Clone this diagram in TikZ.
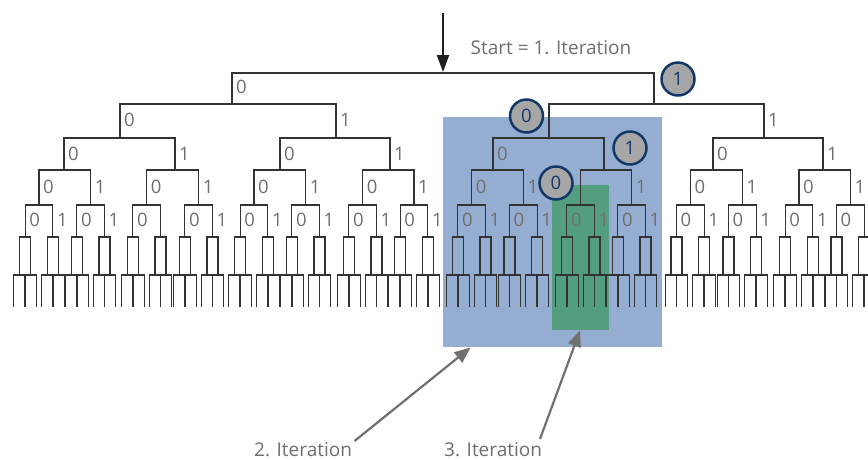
\documentclass[tikz,border=0pt]{standalone}
\usepackage{fontspec}
\setmainfont{Open Sans}
\usetikzlibrary{arrows.meta}
\definecolor{treeline}{HTML}{333333}
\definecolor{labelgray}{HTML}{6E6E6E}
\definecolor{boxblue}{HTML}{95ADD0}
\definecolor{boxgreen}{HTML}{529E7E}
\definecolor{navy}{HTML}{12386A}
\definecolor{circgray}{HTML}{A6A6A6}
\definecolor{arrowgray}{HTML}{707070}
\begin{document}
\begin{tikzpicture}[x=1pt,y=-1pt,
  branch/.style={draw=treeline, line width=1.1pt},
  lbl/.style={text=labelgray, font=\fontsize{18.5}{20}\selectfont, inner sep=0pt, anchor=west},
  bit/.style={circle, draw=navy, line width=2.5pt, fill=circgray, text=navy, minimum size=33pt, inner sep=0pt, font=\fontsize{18.5}{20}\selectfont},
  caption/.style={text=labelgray, font=\fontsize{19}{20}\selectfont, inner sep=0pt, anchor=base west},
  iterarrow/.style={draw=arrowgray, line width=2.2pt, -{Triangle[length=16pt,width=13pt]}},
  startarrow/.style={draw=black!88, line width=2pt, -{Triangle[length=17pt,width=12pt]}},
  region/.style={inner sep=0pt, anchor=north west, draw=none},
]
\useasboundingbox (0,0) rectangle (868,459);
\clip (0,0) rectangle (868,459);

% highlighted regions
\node[region, fill=boxblue, minimum width=219pt, minimum height=230pt] (blue) at (443,117) {};
\node[region, fill=boxgreen, minimum width=57pt, minimum height=145pt] (green) at (552,185) {};

% tree: root and upper levels
\draw[branch] (232,104) -- (232,73) -- (654,73) -- (654,104);
\draw[branch] (120,138) -- (120,104) -- (336,104) -- (336,138);
\draw[branch] (549,138) -- (549,104) -- (764,104) -- (764,138);
\foreach \a/\b in {64/175,280/390,493/604,713/823}
  \draw[branch] (\a,170) -- (\a,138) -- (\b,138) -- (\b,170);
\foreach \a/\b in {39/90.7,146.7/198.7,254/305.7,362.7/414,471.7/523.3,580.7/631.7,690.3/742.3,799/850.3}
  \draw[branch] (\a,205) -- (\a,170) -- (\b,170) -- (\b,205);
% lower levels
\foreach \p in {39,90.7,146.7,198.7,254,305.7,362.7,414,471.7,523.3,580.7,631.7,690.3,742.3,799,850.3}{
  \draw[branch] (\p-13.8,237) -- (\p-13.8,205) -- (\p+13.8,205) -- (\p+13.8,237);
  \foreach \s in {-1,1}{
    \pgfmathsetmacro\q{\p+\s*13.8}
    \draw[branch] (\q-5.5,275) -- (\q-5.5,237) -- (\q+5.5,237) -- (\q+5.5,275);
    \foreach \t in {-1,1}{
      \pgfmathsetmacro\r{\q+\t*5.5}
      \draw[branch] (\r-5.85,307) -- (\r-5.85,275) -- (\r+5.85,275) -- (\r+5.85,307);
    }
  }
}

% branch labels
\node[lbl] (d1a) at (236,87) {0};
\foreach \x/\v [count=\i] in {120/0,336/1,764/1}
  \node[lbl] (d2-\i) at (\x+4,120) {\v};
\foreach \x/\v [count=\i] in {64/0,175/1,280/0,390/1,493/0,713/0,823/1}
  \node[lbl] (d3-\i) at (\x+4,154) {\v};
\foreach \x/\v [count=\i] in {39/0,90.7/1,146.7/0,198.7/1,254/0,305.7/1,362.7/0,414/1,471.7/0,523.3/1,631.7/1,690.3/0,742.3/1,799/0,850.3/1}
  \node[lbl] (d4-\i) at (\x+4,187) {\v};
\foreach \p [count=\i] in {39,90.7,146.7,198.7,254,305.7,362.7,414,471.7,523.3,580.7,631.7,690.3,742.3,799,850.3}{
  \node[lbl] (d5l-\i) at (\p-13.8+4,220) {0};
  \ifnum\i=3\else\ifnum\i=16\else
    \node[lbl] (d5r-\i) at (\p+13.8+4,220) {1};
  \fi\fi
}

% circled bits
\node[bit] (c1) at (678,79) {1};
\node[bit] (c2) at (526.5,116) {0};
\node[bit] (c3) at (630,148) {1};
\node[bit] (c4) at (556,183) {0};

% captions and arrows
\node[caption] (start) at (470.5,54.5) {Start = 1. Iteration};
\coordinate (starttop) at (443,13);
\coordinate (rootc) at (443,72);
\draw[startarrow] (starttop) -- (rootc);

\node[caption] (it2) at (254,456) {2. Iteration};
\node[caption] (it3) at (444,456) {3. Iteration};
\coordinate (a2s) at (354.5,441);
\coordinate (a2e) at (470.5,347.5);
\coordinate (a3s) at (540,439);
\coordinate (a3e) at (580,330.5);
\draw[iterarrow] (a2s) -- (a2e);
\draw[iterarrow] (a3s) -- (a3e);
\end{tikzpicture}
\end{document}
